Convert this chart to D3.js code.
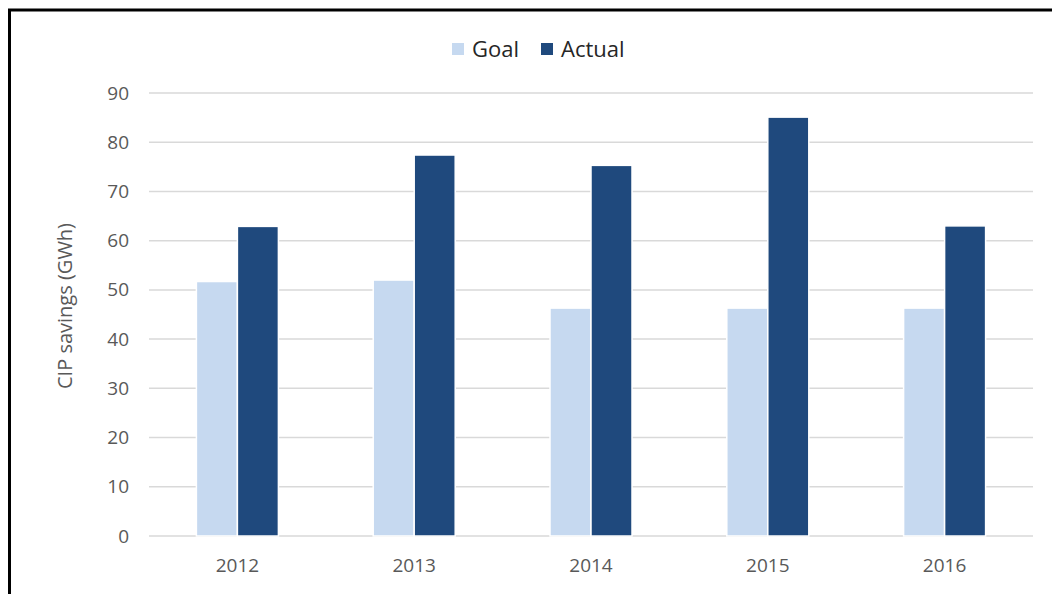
<!DOCTYPE html>
<html>
<head>
<meta charset="utf-8">
<script src="https://cdn.jsdelivr.net/npm/d3@7"></script>
<style>
html,body{margin:0;padding:0;background:#fff;}
svg{display:block;}
text{font-family:"Open Sans",sans-serif;}
</style>
</head>
<body>
<svg id="chart" width="1052" height="594"></svg>
<script>
const categories = ["2012","2013","2014","2015","2016"];
const seriesNames = ["Goal","Actual"];
const goalValues = [51.7, 52.0, 46.3, 46.3, 46.3];
const actualValues = [62.9, 77.4, 75.3, 85.1, 63.0];
const yTicks = [0,10,20,30,40,50,60,70,80,90];
const colors = ["#c6d9f0","#1f497d"];

const svg = d3.select("#chart");
const W = 1052, H = 594;
const margin = {left:149, right:1052-1033, top:93, bottom:594-536};

// frame
svg.append("rect").attr("x",9.5).attr("y",10).attr("width",1100).attr("height",700)
  .attr("fill","none").attr("stroke","#000").attr("stroke-width",3);

const x0 = d3.scaleBand().domain(categories).range([margin.left, W-margin.right]).paddingInner(0).paddingOuter(0);
const x1 = d3.scaleBand().domain(seriesNames).range([0, 82]).padding(0);
const y = d3.scaleLinear().domain([0,90]).range([H-margin.bottom, margin.top]);

// gridlines
svg.append("g").selectAll("line").data(yTicks).join("line")
  .attr("x1", margin.left).attr("x2", W-margin.right)
  .attr("y1", d=>y(d)).attr("y2", d=>y(d))
  .attr("stroke","#d9d9d9").attr("stroke-width",1.5);

// y axis labels
const yAxis = d3.axisLeft(y).tickValues(yTicks).tickSize(0).tickPadding(0);
const gy = svg.append("g").attr("transform",`translate(129,0)`).call(yAxis);
gy.select(".domain").remove();
gy.selectAll("text").attr("fill","#595959").style("font-size","19px").style("font-family","'Open Sans',sans-serif");

// x axis labels
const xAxis = d3.axisBottom(x0).tickSize(0).tickPadding(0);
const gx = svg.append("g").attr("transform",`translate(0,${y(0)+22})`).call(xAxis);
gx.select(".domain").remove();
gx.selectAll("text").attr("fill","#595959").style("font-size","19px").style("font-family","'Open Sans',sans-serif");

// bars
const data = categories.map((c,i)=>({cat:c, vals:[goalValues[i], actualValues[i]]}));
const groups = svg.append("g").selectAll("g").data(data).join("g")
  .attr("transform", d=>`translate(${x0(d.cat)+x0.bandwidth()/2-41},0)`);
groups.selectAll("rect").data(d=>d.vals.map((v,j)=>({name:seriesNames[j], v, j}))).join("rect")
  .attr("x", d=>x1(d.name)).attr("width", x1.bandwidth())
  .attr("y", d=>y(d.v)).attr("height", d=>y(0)-y(d.v))
  .attr("fill", d=>colors[d.j]).attr("stroke","#fff").attr("stroke-width",1.5);

// y title
svg.append("text").attr("transform","translate(67,306) rotate(-90)")
  .attr("text-anchor","middle").attr("dominant-baseline","middle")
  .attr("fill","#595959").style("font-size","20px").text("CIP savings (GWh)");

// legend
const legend = svg.append("g");
const legendItems = [{name:"Goal", x:452},{name:"Actual", x:541}];
legendItems.forEach((it,i)=>{
  legend.append("rect").attr("x",it.x).attr("y",43).attr("width",12).attr("height",12).attr("fill",colors[i]);
  legend.append("text").attr("x",it.x+20).attr("y",48).attr("dominant-baseline","central")
    .attr("fill","#262626").style("font-size","22px").text(it.name);
});
</script>
</body>
</html>
